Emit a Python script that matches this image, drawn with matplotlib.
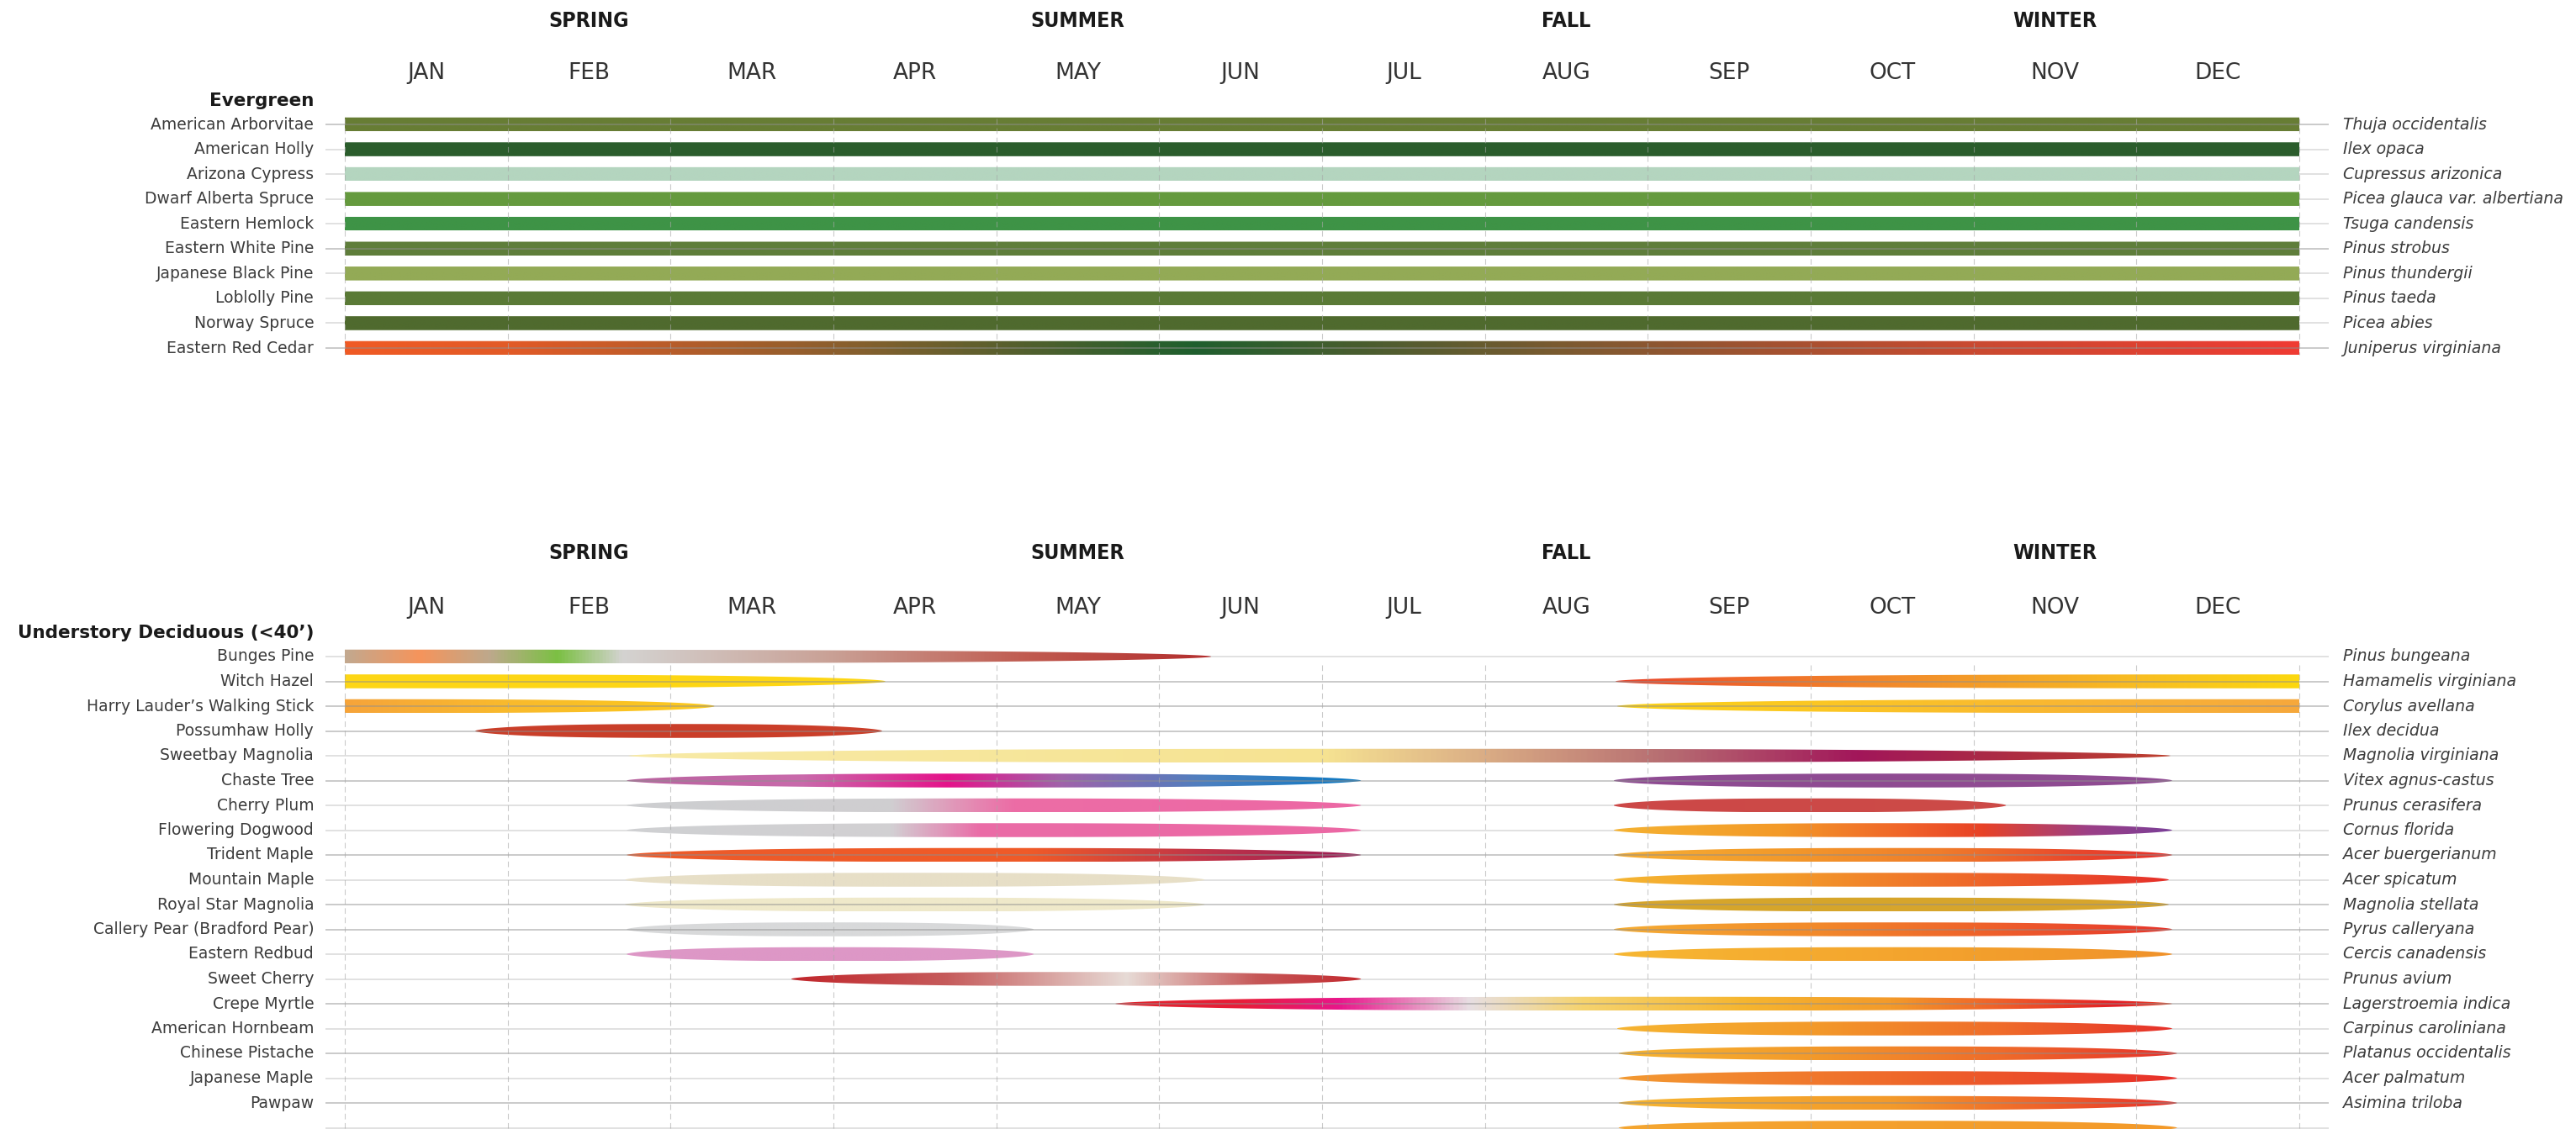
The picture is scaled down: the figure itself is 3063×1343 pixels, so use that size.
import numpy as np
import matplotlib.pyplot as plt
from matplotlib.colors import LinearSegmentedColormap
from matplotlib.patches import Polygon

plt.rcParams['font.family'] = ['DejaVu Sans']

# ---- data ----
months = ['JAN', 'FEB', 'MAR', 'APR', 'MAY', 'JUN',
          'JUL', 'AUG', 'SEP', 'OCT', 'NOV', 'DEC']
seasons = ['SPRING', 'SUMMER', 'FALL', 'WINTER']
season_month = [1.5, 4.5, 7.5, 10.5]

ever_title = 'Evergreen'
ever_names = ['American Arborvitae', 'American Holly', 'Arizona Cypress',
              'Dwarf Alberta Spruce', 'Eastern Hemlock', 'Eastern White Pine',
              'Japanese Black Pine', 'Loblolly Pine', 'Norway Spruce',
              'Eastern Red Cedar']
ever_latin = ['Thuja occidentalis', 'Ilex opaca', 'Cupressus arizonica',
              'Picea glauca var. albertiana', 'Tsuga candensis', 'Pinus strobus',
              'Pinus thundergii', 'Pinus taeda', 'Picea abies',
              'Juniperus virginiana']
ever_dark = [1, 0, 0, 0, 0, 1, 0, 0, 0, 1]
# every evergreen bar runs the whole year: colour stops (month, colour)
ever_stops = [
    [(0, '#677d34'), (12, '#677d34')],
    [(0, '#2b5d2c'), (12, '#2b5d2c')],
    [(0, '#b4d5bf'), (12, '#b4d5bf')],
    [(0, '#659a3e'), (12, '#659a3e')],
    [(0, '#3e9346'), (12, '#3e9346')],
    [(0, '#5f7e3b'), (12, '#5f7e3b')],
    [(0, '#93aa56'), (12, '#93aa56')],
    [(0, '#5a7a36'), (12, '#5a7a36')],
    [(0, '#4f6a2e'), (12, '#4f6a2e')],
    [(0, '#f05a24'), (1.0, '#e25a27'), (3.0, '#8c5f2d'), (5.2, '#1f5f2e'),
     (7.5, '#7c5a30'), (10, '#c94a30'), (12, '#ef3b33')],
]

dec_title = 'Understory Deciduous (<40\u2019)'
dec_names = ['Bunges Pine', 'Witch Hazel', 'Harry Lauder\u2019s Walking Stick',
             'Possumhaw Holly', 'Sweetbay Magnolia', 'Chaste Tree', 'Cherry Plum',
             'Flowering Dogwood', 'Trident Maple', 'Mountain Maple',
             'Royal Star Magnolia', 'Callery Pear (Bradford Pear)', 'Eastern Redbud',
             'Sweet Cherry', 'Crepe Myrtle', 'American Hornbeam', 'Chinese Pistache',
             'Japanese Maple', 'Pawpaw', '']
dec_latin = ['Pinus bungeana', 'Hamamelis virginiana', 'Corylus avellana',
             'Ilex decidua', 'Magnolia virginiana', 'Vitex agnus-castus',
             'Prunus cerasifera', 'Cornus florida', 'Acer buergerianum',
             'Acer spicatum', 'Magnolia stellata', 'Pyrus calleryana',
             'Cercis canadensis', 'Prunus avium', 'Lagerstroemia indica',
             'Carpinus caroliniana', 'Platanus occidentalis', 'Acer palmatum',
             'Asimina triloba', '']
dec_dark = [0, 1, 1, 1, 0, 1, 0, 0, 1, 0, 1, 1, 0, 0, 1, 0, 1, 0, 1, 0]

# (row, start month, end month, flat left, flat right, colour stops)
dec_segments = [
    (0, 0.0, 5.32, True, False, [(0, '#c3a88e'), (0.45, '#f6945b'), (0.88, '#bda98c'),
                                 (1.3, '#7bc043'), (1.7, '#d4d3d1'), (3.0, '#c9a095'),
                                 (4.2, '#c05a4f'), (5.32, '#b32e2e')]),
    (1, 0.0, 3.32, True, False, [(0, '#fdd716'), (3.32, '#fed614')]),
    (1, 7.8, 12.0, False, True, [(7.8, '#e8432c'), (8.6, '#ef6a2a'), (9.8, '#f3952a'),
                                 (11, '#f8bd22'), (12, '#fcd80f')]),
    (2, 0.0, 2.27, True, False, [(0, '#f6a43a'), (1.0, '#f9ba2c'), (2.27, '#fcca1c')]),
    (2, 7.81, 12.0, False, True, [(7.81, '#fcd316'), (9.5, '#fbc228'), (11, '#f8b236'),
                                  (12, '#f6a83c')]),
    (3, 0.80, 3.30, False, False, [(0.8, '#c93e2a'), (3.3, '#cb3f29')]),
    (4, 1.74, 11.21, False, False, [(1.74, '#f8eaa6'), (6.0, '#f6e392'), (6.8, '#e0b888'),
                                    (8.1, '#b76e72'), (9.3, '#a2165a'), (10.0, '#a92848'),
                                    (11.21, '#bd3f2e')]),
    (5, 1.73, 6.24, False, False, [(1.73, '#b8639f'), (2.8, '#c96aab'), (3.7, '#e5138a'),
                                   (4.4, '#a062aa'), (5.3, '#4b80c0'), (6.24, '#0a78c2')]),
    (5, 7.79, 11.22, False, False, [(7.79, '#8e4b92'), (11.22, '#904c92')]),
    (6, 1.73, 6.24, False, False, [(1.73, '#cdced0'), (3.35, '#d0ced1'), (3.75, '#e196b8'),
                                   (4.1, '#ec6da6'), (6.24, '#ec68a4')]),
    (6, 7.79, 10.2, False, False, [(7.79, '#cd4848'), (10.2, '#cc4b47')]),
    (7, 1.73, 6.24, False, False, [(1.73, '#cfd0d2'), (3.35, '#d2d0d3'), (3.9, '#ea6ca7'),
                                   (6.24, '#ec68a4')]),
    (7, 7.79, 11.22, False, False, [(7.79, '#f5b232'), (8.8, '#f39a28'), (9.6, '#f0622a'),
                                    (10.05, '#e84226'), (10.7, '#9c3f86'), (11.22, '#7a3f98')]),
    (8, 1.73, 6.24, False, False, [(1.73, '#ec5a2a'), (4.2, '#f05a28'), (5.26, '#c13548'),
                                   (6.24, '#9a1b55')]),
    (8, 7.79, 11.22, False, False, [(7.79, '#f6ae33'), (8.8, '#f39a2a'), (9.8, '#f07c2a'),
                                    (10.6, '#e9492c'), (11.22, '#e6302a')]),
    (9, 1.72, 5.28, False, False, [(1.72, '#e7dfc7'), (5.28, '#e7dfc7')]),
    (9, 7.79, 11.2, False, False, [(7.79, '#f5b532'), (8.8, '#f39d2b'), (9.9, '#ef6c2a'),
                                   (11.2, '#e6302a')]),
    (10, 1.72, 5.28, False, False, [(1.72, '#efe9ca'), (5.28, '#efe9ca')]),
    (10, 7.79, 11.2, False, False, [(7.79, '#d6a52a'), (11.2, '#d8a62c')]),
    (11, 1.73, 4.23, False, False, [(1.73, '#d8d9da'), (4.23, '#d8d9da')]),
    (11, 7.79, 11.22, False, False, [(7.79, '#f5ad33'), (9.0, '#f28a2a'), (10.2, '#ee5c2b'),
                                     (11.22, '#e6362c')]),
    (12, 1.73, 4.23, False, False, [(1.73, '#dd97c6'), (4.23, '#dd97c6')]),
    (12, 7.79, 11.22, False, False, [(7.79, '#f7b733'), (9.5, '#f4a52e'), (11.22, '#f0922a')]),
    (13, 2.74, 6.24, False, False, [(2.74, '#c1262b'), (3.7, '#c65c5c'), (4.8, '#e7dbd6'),
                                    (5.6, '#c65858'), (6.24, '#c32a2f')]),
    (14, 4.73, 11.22, False, False, [(4.73, '#e2232a'), (5.5, '#e81d3a'), (6.1, '#e9168b'),
                                     (6.9, '#e7dfe3'), (7.6, '#f5d36e'), (8.6, '#f6b52f'),
                                     (9.5, '#f39a2a'), (10.3, '#ee5429'), (10.9, '#e31d25'),
                                     (11.22, '#e84b2b')]),
    (15, 7.81, 11.22, False, False, [(7.81, '#f6b431'), (9.0, '#f39a2a'), (10.2, '#ef6a2a'),
                                     (11.22, '#e6302a')]),
    (16, 7.82, 11.25, False, False, [(7.82, '#f6b431'), (9.0, '#f39a2a'), (10.2, '#ef6a2a'),
                                     (11.25, '#e6302a')]),
    (17, 7.82, 11.25, False, False, [(7.82, '#f39a32'), (9.5, '#ef6a2b'), (11.25, '#e8302a')]),
    (18, 7.82, 11.25, False, False, [(7.82, '#f6b531'), (9.5, '#f39a2a'), (10.5, '#ef5e2a'),
                                     (11.25, '#e6302a')]),
    (19, 7.82, 11.25, False, False, [(7.82, '#f5a631'), (11.25, '#f39a2a')]),
]

# ---- layout (pixels of the 3063 x 1343 picture) ----
W, H = 3063, 1343
X0, X1 = 410, 2734          # jan start / dec end
HALF = 0.28                 # half bar thickness, in rows


def add_axes(fig, top_px, row_px, nrows_visible):
    bottom_px = top_px + row_px * nrows_visible
    ax = fig.add_axes([X0 / W, 1 - bottom_px / H, (X1 - X0) / W, (bottom_px - top_px) / H])
    ax.axis('off')
    return ax


def draw_shape(ax, row, x0, x1, flat_l, flat_r, stops):
    xs = np.linspace(x0, x1, 800)
    if flat_l and flat_r:
        prof = np.ones_like(xs)
    elif flat_l:
        t = (xs - x0) / (x1 - x0)
        prof = np.clip(1 - t ** 3.0, 0, 1) ** 0.55
    elif flat_r:
        t = (x1 - xs) / (x1 - x0)
        prof = np.clip(1 - t ** 3.0, 0, 1) ** 0.55
    else:
        t = (xs - (x0 + x1) / 2) / ((x1 - x0) / 2)
        prof = np.clip(1 - np.abs(t) ** 2.6, 0, 1) ** 0.6
    top = row - HALF * prof
    bot = row + HALF * prof
    verts = np.column_stack([np.r_[xs, xs[::-1]], np.r_[top, bot[::-1]]])
    poly = Polygon(verts, closed=True, facecolor='none', edgecolor='none')
    ax.add_patch(poly)
    pos = [min(max((m - x0) / (x1 - x0), 0), 1) for m, c in stops]
    pos[0], pos[-1] = 0.0, 1.0
    cmap = LinearSegmentedColormap.from_list('g', list(zip(pos, [c for m, c in stops])))
    grad = np.linspace(0, 1, 800)[None, :]
    im = ax.imshow(grad, cmap=cmap, extent=[x0, x1, row + HALF, row - HALF],
                   aspect='auto', interpolation='bilinear', zorder=2)
    im.set_clip_path(poly)


def section(ax, title, names, latin, dark, ylim_bottom, y_season, y_month, y_title, vtop, vbot):
    for i in range(len(names)):
        dk = dark[i]
        ax.hlines(i, -0.12, 12.18, color='#8f8f8f' if dk else '#d8d8d8',
                  lw=1.1, zorder=3 if dk else 1, alpha=0.6 if dk else 1, clip_on=False)
        ax.text(-0.19, i, names[i], ha='right', va='center', fontsize=13.5,
                color='#3c3c3c', clip_on=False)
        ax.text(12.27, i, latin[i], ha='left', va='center', fontsize=13.6,
                style='italic', color='#3c3c3c', clip_on=False)
    ax.vlines(np.arange(13), vtop, vbot, color='#a8a8a8', lw=0.8,
              linestyles=(0, (6, 4)), alpha=0.6, zorder=4, clip_on=False)
    for m, lab in enumerate(months):
        ax.text(m + 0.5, y_month, lab, ha='center', va='baseline', fontsize=19,
                color='#333333', clip_on=False)
    for s, lab in zip(season_month, seasons):
        ax.text(s, y_season, lab, ha='center', va='baseline', fontsize=18,
                fontweight='bold', fontstretch='condensed', color='#1a1a1a',
                clip_on=False)
    ax.text(-0.19, y_title, title, ha='right', va='baseline', fontsize=15.5,
            fontweight='bold', color='#1a1a1a', clip_on=False)
    ax.set_xlim(0, 12)
    ax.set_ylim(ylim_bottom, -0.5)


fig = plt.figure(figsize=(W / 100, H / 100), dpi=100)

# evergreen block: row centres 148 .. 414 px
ev_row = (414 - 148) / 9
ax1 = add_axes(fig, 148 - ev_row / 2, ev_row, 10)
for i, st in enumerate(ever_stops):
    draw_shape(ax1, i, 0, 12, True, True, st)
section(ax1, ever_title, ever_names, ever_latin, ever_dark, 9.5,
        (31.7 - 148) / ev_row, (94 - 148) / ev_row, (126 - 148) / ev_row, -0.25, 9.27)

# deciduous block: row centres from 781 px, 29.5 px apart, cut at the bottom
dc_row = 29.5
dc_top = 781 - dc_row / 2
dc_bottom = (H - 781) / dc_row
ax2 = add_axes(fig, dc_top, dc_row, (H - dc_top) / dc_row)
for row, a, b, fl, fr, st in dec_segments:
    draw_shape(ax2, row, a, b, fl, fr, st)
section(ax2, dec_title, dec_names, dec_latin, dec_dark, dc_bottom,
        (665 - 781) / dc_row, (730 - 781) / dc_row, (759 - 781) / dc_row, 0.35, dc_bottom)

fig.savefig('out.png', dpi=100, facecolor='white')
